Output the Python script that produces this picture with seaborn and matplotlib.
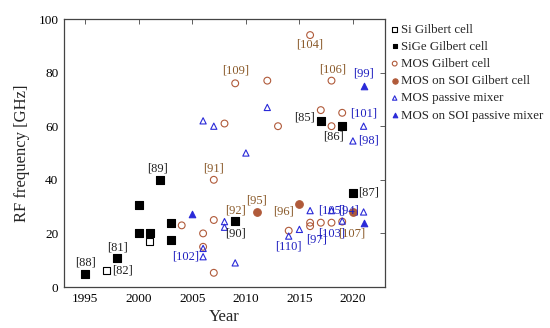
import matplotlib
matplotlib.use("Agg")
import matplotlib.pyplot as plt
import seaborn as sns
import pandas as pd

sns.set_theme(style="white")
plt.rcParams['font.family'] = ['Liberation Serif', 'DejaVu Serif']

# ---- data ----
si_year = [1997, 2001]
si_freq = [6, 17]

sige_year = [1995, 1998, 2000, 2000, 2001, 2002, 2003, 2003, 2009, 2017, 2019, 2020]
sige_freq = [5, 11, 30.5, 20, 20, 40, 24, 17.5, 24.5, 62, 60, 35]

mos_year = [2016, 2009, 2012, 2018, 2008, 2013, 2017, 2018, 2019,
            2004, 2006, 2006, 2007, 2007, 2007, 2014, 2016, 2016, 2017, 2018, 2019]
mos_freq = [94, 76, 77, 77, 61, 60, 66, 60, 65,
            23, 20, 15, 40, 25, 5.3, 21, 24, 22.7, 24, 24, 24.4]

soi_gc_year = [2011, 2015, 2020]
soi_gc_freq = [28, 31, 28]

pm_year = [2006, 2007, 2012, 2020, 2021, 2010, 2008, 2008, 2009, 2014,
           2015, 2016, 2018, 2019, 2006, 2006, 2021]
pm_freq = [62, 60, 67, 54.5, 60, 50, 24.4, 22.3, 9, 19,
           21.5, 28.5, 28.5, 24.6, 14.4, 11.3, 28]

soi_pm_year = [2005, 2021, 2021]
soi_pm_freq = [27.2, 75, 24]

label_text = ["[88]", "[81]", "[82]", "[89]", "[102]", "[91]", "[109]", "[104]",
              "[106]", "[99]", "[85]", "[86]", "[101]", "[98]", "[87]", "[92]",
              "[95]", "[96]", "[90]", "[110]", "[97]", "[105]", "[94]", "[103]", "[107]"]
label_x = [1995, 1998, 1998.5, 2001.7, 2004.35, 2007, 2009, 2016,
           2018.1, 2021, 2015.5, 2018.2, 2021, 2021.5, 2021.5, 2009,
           2011, 2013.55, 2009, 2014, 2016.65, 2018, 2019.6, 2018, 2019.9]
label_y = [9.1, 14.9, 6.0, 44.4, 11.3, 44.4, 80.7, 90.3,
           81.2, 79.5, 63.3, 56.1, 64.6, 54.6, 35.2, 28.4,
           32.2, 28.1, 20.0, 15.0, 17.8, 28.4, 28.4, 20.0, 20.0]
label_group = ["k", "k", "k", "k", "b", "r", "r", "r",
               "r", "b", "k", "k", "b", "b", "k", "r",
               "r", "r", "k", "b", "b", "b", "b", "b", "r"]

BROWN = "#b05a3a"
BLUE = "#2a2ad8"
group_color = {"k": "#222222", "r": "#8a5a2a", "b": "#2020c0"}

series = [
    ("Si Gilbert cell", si_year, si_freq, "s", "black", False, 26),
    ("SiGe Gilbert cell", sige_year, sige_freq, "s", "black", True, 26),
    ("MOS Gilbert cell", mos_year, mos_freq, "o", BROWN, False, 24),
    ("MOS on SOI Gilbert cell", soi_gc_year, soi_gc_freq, "o", BROWN, True, 30),
    ("MOS passive mixer", pm_year, pm_freq, "^", BLUE, False, 20),
    ("MOS on SOI passive mixer", soi_pm_year, soi_pm_freq, "^", BLUE, True, 22),
]

fig = plt.figure(figsize=(5.5, 3.28), dpi=100)
ax = fig.add_axes([64 / 550, 41 / 328, (385 - 64) / 550, (287 - 19) / 328])

for name, xs, ys, m, c, filled, s in series:
    df = pd.DataFrame({"Year": xs, "RF": ys})
    sns.scatterplot(data=df, x="Year", y="RF", ax=ax, marker=m, s=s,
                    facecolor=(c if filled else "none"), edgecolor=c,
                    linewidth=0.8, label=name, zorder=3)

for t, x, y, g in zip(label_text, label_x, label_y, label_group):
    ax.text(x, y, t, ha="center", va="center", fontsize=9,
            color=group_color[g], zorder=4)

ax.set_xlim(1993, 2023)
ax.set_ylim(0, 100)
ax.set_xticks([1995, 2000, 2005, 2010, 2015, 2020])
ax.set_yticks([0, 20, 40, 60, 80, 100])
ax.tick_params(direction="in", length=3.5, width=0.6, top=True, right=True,
               labelsize=9.5, colors="#444444", labelcolor="black", pad=4)
for sp in ax.spines.values():
    sp.set_color("#444444")
    sp.set_linewidth(0.9)
ax.set_xlabel("Year", fontsize=12, labelpad=3)
ax.set_ylabel("RF frequency [GHz]", fontsize=12, labelpad=6)

leg = ax.legend(loc="upper left", bbox_to_anchor=(1.0, 1.0), frameon=False,
                fontsize=9.3, handletextpad=0.1, handlelength=0.8,
                labelspacing=0.4, borderaxespad=0.0, borderpad=0.35,
                markerscale=0.7)

fig.savefig("out.png", dpi=100)
